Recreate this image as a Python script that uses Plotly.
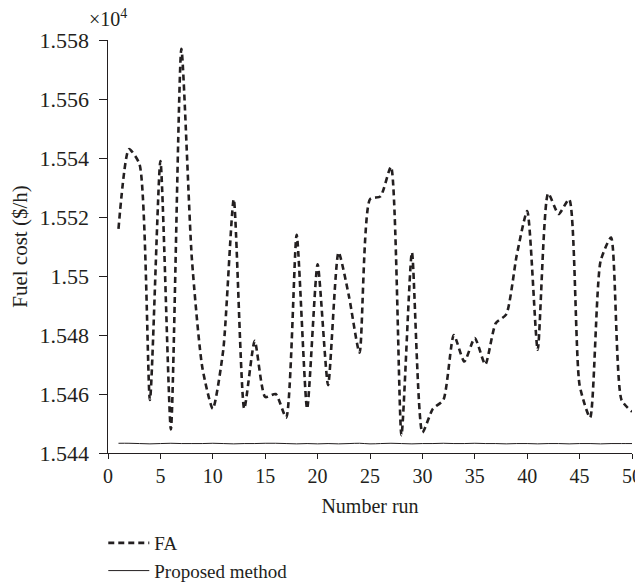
import plotly.graph_objects as go

runs = list(range(1, 51))
fa_cost = [1.5516, 1.5543, 1.5538, 1.5458, 1.5539, 1.5448, 1.5577, 1.5506, 1.5469, 1.5455,
           1.5475, 1.5526, 1.5455, 1.5478, 1.5459, 1.5460, 1.5452, 1.5514, 1.5455, 1.5504,
           1.5463, 1.5508, 1.5493, 1.5474, 1.5526, 1.5527, 1.5537, 1.5446, 1.5508, 1.5447,
           1.5455, 1.5458, 1.5480, 1.5471, 1.5479, 1.5470, 1.5484, 1.5487, 1.5507, 1.5522,
           1.5475, 1.5528, 1.5521, 1.5526, 1.5463, 1.5452, 1.5505, 1.5513, 1.5458, 1.5454]
proposed_cost = [1.54433, 1.54433, 1.54432, 1.54431, 1.54432, 1.54433, 1.54432, 1.54432, 1.54432, 1.54433,
                 1.54432, 1.54431, 1.54432, 1.54432, 1.54433, 1.54433, 1.54432, 1.54431, 1.54432, 1.54431,
                 1.54432, 1.54431, 1.54432, 1.54433, 1.54431, 1.54432, 1.54433, 1.54432, 1.54431, 1.54432,
                 1.54432, 1.54433, 1.54432, 1.54432, 1.54433, 1.54432, 1.54432, 1.54431, 1.54432, 1.54432,
                 1.54431, 1.54432, 1.54432, 1.54431, 1.54432, 1.54432, 1.54431, 1.54432, 1.54432, 1.54432]
y_ticks = [1.544, 1.546, 1.548, 1.550, 1.552, 1.554, 1.556, 1.558]
y_tick_labels = ["1.544", "1.546", "1.548", "1.55", "1.552", "1.554", "1.556", "1.558"]
x_ticks = [0, 5, 10, 15, 20, 25, 30, 35, 40, 45, 50]

ink = "#231f20"
font_family = "Liberation Serif, Times New Roman, serif"

fig = go.Figure()
fig.add_trace(go.Scatter(x=runs, y=fa_cost, mode="lines", name="FA",
                         line=dict(color=ink, width=2.6, dash="6px,4px", shape="spline", smoothing=0.6)))
fig.add_trace(go.Scatter(x=runs, y=proposed_cost, mode="lines", name="Proposed method",
                         line=dict(color=ink, width=1, shape="spline")))

# page body has an 8px margin, so the figure is sized/margined to compensate
fig.update_layout(
    width=635, height=579,
    margin=dict(l=100, r=11, t=32, b=134, autoexpand=False),
    paper_bgcolor="white", plot_bgcolor="white",
    font=dict(family=font_family, size=19, color=ink),
    showlegend=True,
    legend=dict(x=-0.009, y=-0.172, xanchor="left", yanchor="top", orientation="v",
                font=dict(size=19), tracegroupgap=0, itemwidth=41, bgcolor="rgba(0,0,0,0)"),
    xaxis=dict(range=[0, 50], tickvals=x_ticks, showline=True, linecolor=ink, linewidth=1,
               ticks="outside", ticklen=5, tickcolor=ink, showgrid=False, zeroline=False,
               automargin=False, tickfont=dict(size=20),
               title=dict(text="Number run", font=dict(size=20), standoff=12)),
    yaxis=dict(range=[1.544, 1.558], tickvals=y_ticks,
               ticktext=[t + "\u00a0" for t in y_tick_labels], showline=True,
               linecolor=ink, linewidth=1, ticks="outside", ticklen=8, tickcolor=ink,
               showgrid=False, zeroline=False, automargin=False, tickfont=dict(size=22),
               title=dict(text="Fuel cost ($/h)", font=dict(size=21), standoff=10)),
    annotations=[dict(text="×10<sup>4</sup>", xref="paper", yref="paper", x=-0.04, y=1.0,
                      xanchor="left", yanchor="bottom", showarrow=False, yshift=8,
                      font=dict(size=20, family=font_family, color=ink))],
)

fig.write_html("out.html")
